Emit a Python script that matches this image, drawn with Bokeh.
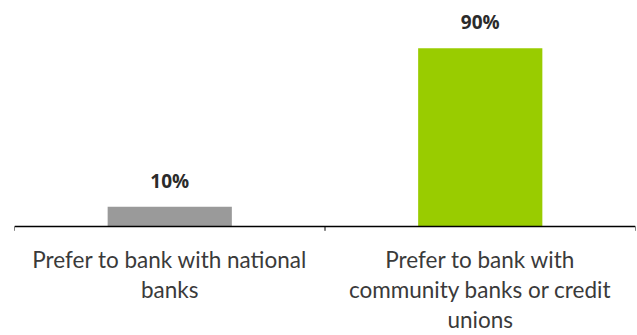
from bokeh.plotting import figure
from bokeh.models import Range1d, ColumnDataSource, Span
from bokeh.core.properties import value
from bokeh.embed import file_html
from bokeh.resources import INLINE

categories = ["Prefer to bank with national\nbanks",
              "Prefer to bank with\ncommunity banks or credit\nunions"]
values = [10, 90]
value_labels = ["10%", "90%"]
colors = ["#9a9a9a", "#99cc00"]

n = len(categories)
xs = [i + 0.5 for i in range(n)]
src = ColumnDataSource(dict(x=xs, top=values, label=value_labels, color=colors,
                            cat=categories, base=[0] * n))
edges = list(range(n + 1))

p = figure(width=637, height=335, output_backend="svg", toolbar_location=None,
           x_range=Range1d(0, n), y_range=Range1d(-55.05, 109),
           min_border_left=14, min_border_right=2, min_border_top=10, min_border_bottom=0)
p.outline_line_color = None
p.grid.visible = False
p.xaxis.visible = False
p.yaxis.visible = False

p.vbar(x="x", top="top", width=0.40, bottom=0, source=src, fill_color="color",
       line_color=None)
p.text(x="x", y="top", text="label", source=src, text_align="center",
       text_baseline="middle", y_offset=-26, text_font=value("Open Sans"),
       text_font_style="bold", text_font_size="19px", text_color="#2b2b2b")

# category axis: baseline and boundary ticks
p.add_layout(Span(location=0, dimension="width", line_color="#000000", line_width=1.5))
p.segment(x0=edges, y0=[0] * len(edges), x1=edges, y1=[-2.2] * len(edges),
          line_color="#000000", line_width=1)

p.text(x="x", y="base", text="cat", source=src, text_align="center",
       text_baseline="top", y_offset=20, text_font=value("Lato"),
       text_font_size="22.5px", text_color="#3a3a3a", text_line_height=1.1)

open("out.html", "w").write(file_html(p, INLINE))
